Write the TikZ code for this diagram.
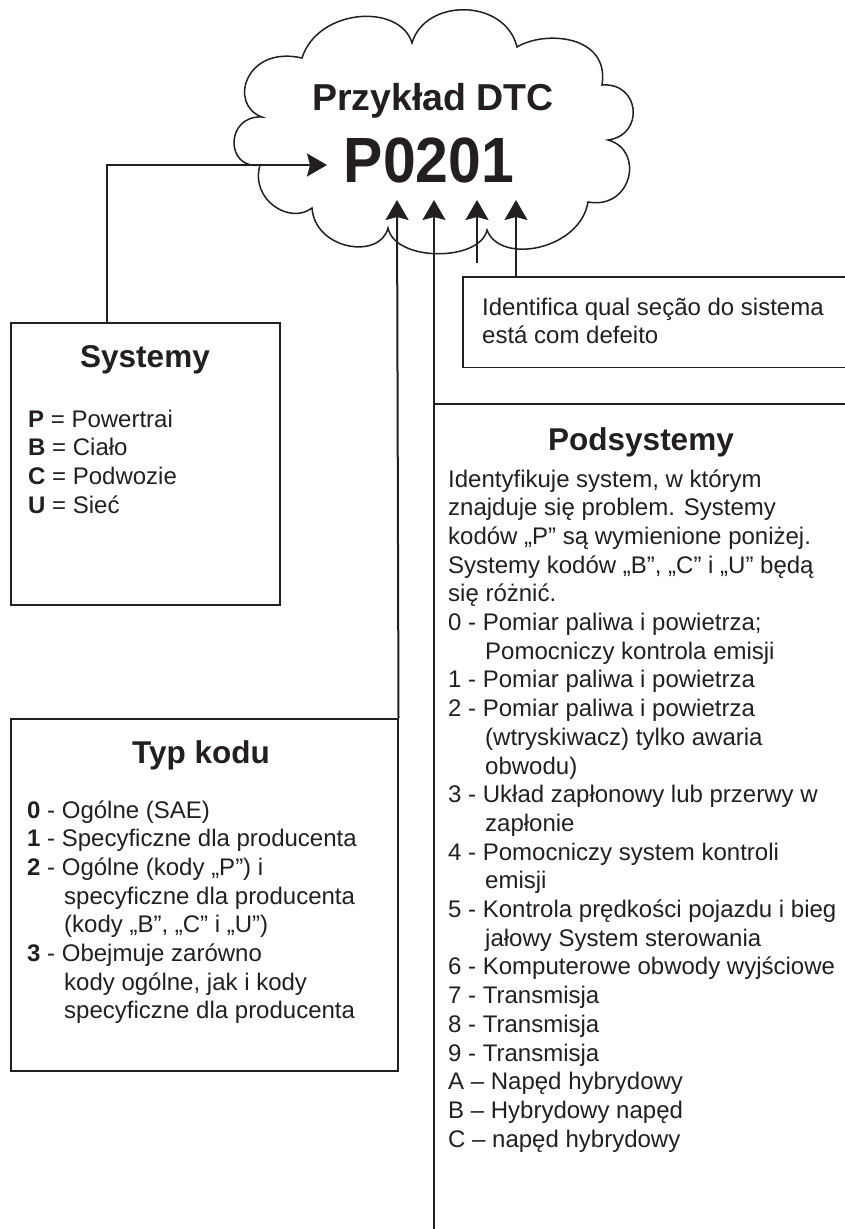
\documentclass[tikz,border=0pt]{standalone}
\usepackage{fontspec}
\setmainfont{Liberation Sans}
\usetikzlibrary{arrows.meta,calc}
\definecolor{ink}{HTML}{231F20}
\tikzset{
  body/.style={font=\fontsize{24}{28.7}\selectfont, text=ink, inner sep=0pt, align=left, anchor=base west},
  head/.style={font=\bfseries\fontsize{31.5}{36}\selectfont, text=ink, inner sep=0pt, anchor=base},
  boxline/.style={draw=ink, line width=1.5pt},
  conn/.style={draw=ink, line width=2pt, -{Stealth[length=20pt,width=23pt,inset=3pt]}},
  frame/.style={inner sep=0pt, anchor=north west}
}
\begin{document}
\begin{tikzpicture}[x=1pt,y=-1pt]
\useasboundingbox (0,0) rectangle (845,1229);
\fill[white] (0,0) rectangle (845,1229);

% cloud
\draw[ink, line width=1.5pt, line join=miter] (262,117)
 .. controls (228,105) and (245,45) .. (302,58)
 .. controls (318,8) and (400,3) .. (412,43)
 .. controls (425,-2) and (505,-2) .. (517,47)
 .. controls (545,30) and (610,35) .. (602,85)
 .. controls (640,82) and (645,135) .. (608,140)
 .. controls (645,150) and (632,210) .. (588,202)
 .. controls (580,250) and (500,265) .. (487,230)
 .. controls (480,262) and (395,262) .. (388,228)
 .. controls (380,260) and (315,250) .. (312,208)
 .. controls (290,225) and (250,200) .. (260,165)
 .. controls (225,170) and (225,115) .. (262,117) -- cycle;

\node[text=ink, inner sep=0pt, anchor=base, font=\bfseries\fontsize{37.5}{42}\selectfont] (title) at (433,110) {Przykład DTC};
\node[text=ink, inner sep=0pt, anchor=base, font=\bfseries\fontsize{64}{70}\selectfont] (code) at (429,182) {\scalebox{0.92}[1]{P0201}};

% boxes
\node[frame, boxline, minimum width=269pt, minimum height=282pt] (sys) at (10,322) {};
\node[frame, boxline, minimum width=387pt, minimum height=352pt] (typ) at (10,718) {};
\node[frame, minimum width=382pt, minimum height=90pt] (ident) at (463,277) {};
\draw[boxline] (ident.north east) -- (ident.north west) -- (ident.south west) -- (ident.south east);
\node[frame, minimum width=411pt, minimum height=825pt] (pod) at (434,404) {};
\draw[boxline] (pod.north east) -- (pod.north west) -- (pod.south west);

% arrow targets
\coordinate (t1) at (397,200);
\coordinate (t2) at (434,200);
\coordinate (t3) at (477,200);
\coordinate (t4) at (516,200);
\coordinate (hend) at (327,165);
\coordinate (hs) at ($(sys.north west)+(97,0)$);
\coordinate (s3) at (477,263);
\coordinate (s4) at ($(ident.north west)+(53,0)$);

\draw[conn] (hs) |- (hend);
\draw[conn] (typ.north east) -- (t1);
\draw[conn] (pod.north west) -- (t2);
\draw[conn] (s3) -- (t3);
\draw[conn] (s4) -- (t4);

% texts (multi-line nodes are placed at the baseline of their last line)
\node[head] (systitle) at (145,367) {Systemy};
\node[body] (systext) at (28,513.1) {\textbf{P} = Powertrai\\\textbf{B} = Ciało\\\textbf{C} = Podwozie\\\textbf{U} = Sieć};

\node[head] (typtitle) at (201,763) {Typ kodu};
\node[body] (typtext) at (27,1018.9) {\textbf{0} - Ogólne (SAE)\\
\textbf{1} - Specyficzne dla producenta\\
\textbf{2} - Ogólne (kody „P”) i\\
\hspace*{37pt}specyficzne dla producenta\\
\hspace*{37pt}(kody „B”, „C” i „U”)\\
\textbf{3} - Obejmuje zarówno\\
\hspace*{37pt}kody ogólne, jak i kody\\
\hspace*{37pt}specyficzne dla producenta};

\node[body] (identtext) at (482,343.7) {Identifica qual seção do sistema\\está com defeito};

\node[head] (podtitle) at (641,450) {Podsystemy};
\node[body] (podtext) at (448,1147.1) {Identyfikuje system, w którym\\
znajduje się problem. Systemy\\
kodów „P” są wymienione poniżej.\\
Systemy kodów „B”, „C” i „U” będą\\
się różnić.\\
0 - Pomiar paliwa i powietrza;\\
\hspace*{37pt}Pomocniczy kontrola emisji\\
1 - Pomiar paliwa i powietrza\\
2 - Pomiar paliwa i powietrza\\
\hspace*{37pt}(wtryskiwacz) tylko awaria\\
\hspace*{37pt}obwodu)\\
3 - Układ zapłonowy lub przerwy w\\
\hspace*{37pt}zapłonie\\
4 - Pomocniczy system kontroli\\
\hspace*{37pt}emisji\\
5 - Kontrola prędkości pojazdu i bieg\\
\hspace*{37pt}jałowy System sterowania\\
6 - Komputerowe obwody wyjściowe\\
7 - Transmisja\\
8 - Transmisja\\
9 - Transmisja\\
A – Napęd hybrydowy\\
B – Hybrydowy napęd\\
C – napęd hybrydowy};
\end{tikzpicture}
\end{document}
